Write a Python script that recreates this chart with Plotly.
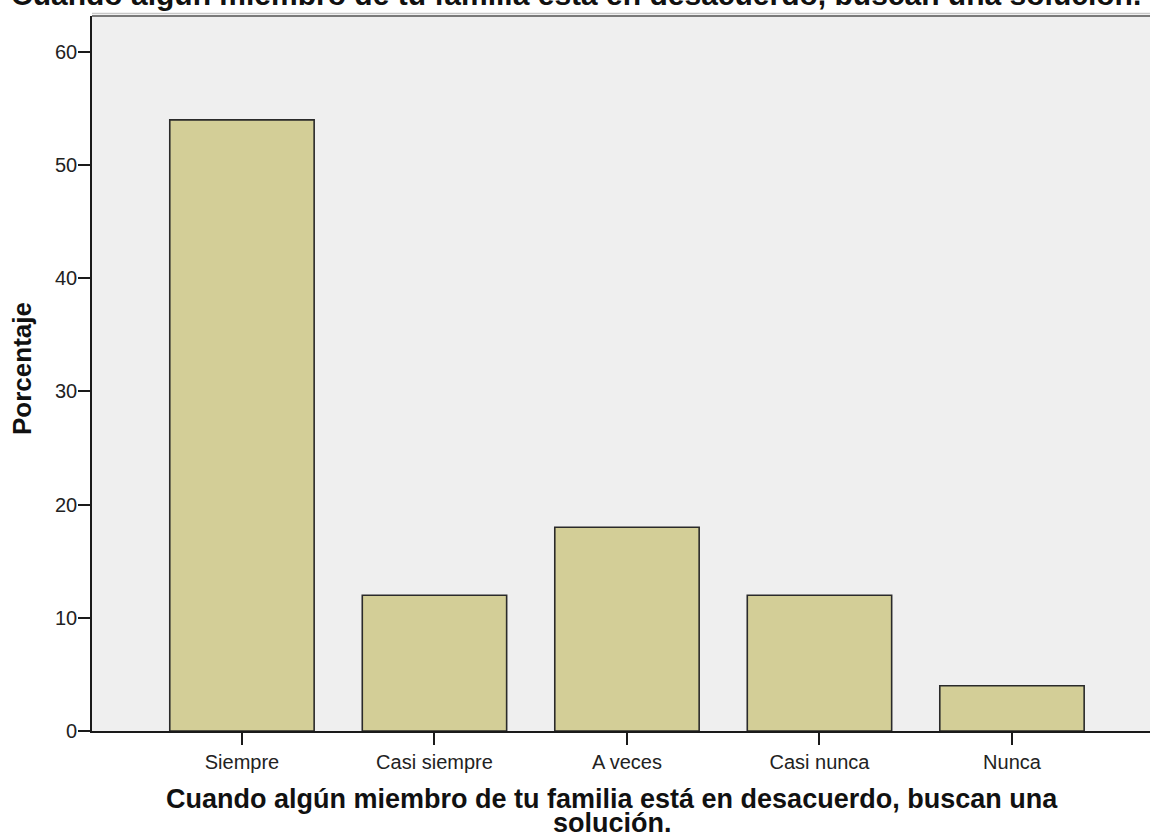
import plotly.graph_objects as go

categories = ["Siempre", "Casi siempre", "A veces", "Casi nunca", "Nunca"]
percentages = [54, 12, 18, 12, 4]
y_ticks = [0, 10, 20, 30, 40, 50, 60]

title_text = "Cuando algún miembro de tu familia está en desacuerdo, buscan una solución."
x_title_line1 = "Cuando algún miembro de tu familia está en desacuerdo, buscan una"
x_title_line2 = "solución."
y_title = "Porcentaje"

FONT = "Liberation Sans, Arial, sans-serif"
PLOT_H = 835 - 16 - 104  # plot area height in px
PLOT_W = 1150 - 92

fig = go.Figure()
fig.add_trace(go.Bar(
    x=categories,
    y=percentages,
    width=0.75,
    marker=dict(color="#D3CE97", line=dict(color="#2a2a2a", width=1.6)),
))

fig.update_layout(
    width=1150,
    height=835,
    margin=dict(l=92, r=0, t=16, b=104, autoexpand=False),
    paper_bgcolor="white",
    plot_bgcolor="#EFEFEF",
    showlegend=False,
    font=dict(family=FONT, color="#222222"),
    xaxis=dict(
        type="category",
        range=[-0.779, 4.717],
        showline=True, linecolor="#1a1a1a", linewidth=1.6,
        ticks="outside", ticklen=12, tickwidth=1.6, tickcolor="#1a1a1a",
        tickfont=dict(size=20, color="#222222"),
        showgrid=False, zeroline=False,
    ),
    yaxis=dict(
        range=[0, 63.18],
        tickvals=y_ticks,
        showline=True, linecolor="#1a1a1a", linewidth=1.6,
        ticks="outside", ticklen=12, tickwidth=1.6, tickcolor="#1a1a1a",
        tickfont=dict(size=20, color="#222222"),
        ticklabelstandoff=-3,
        showgrid=False, zeroline=False,
    ),
    annotations=[
        dict(text=title_text, xref="paper", yref="paper",
             x=(576 - 92) / PLOT_W, y=1.0, yshift=3, xanchor="center", yanchor="bottom",
             showarrow=False, font=dict(size=30, weight="bold", color="#111111")),
        dict(text=x_title_line1, xref="paper", yref="paper",
             x=(612 - 92) / PLOT_W, y=-(799 - 731) / PLOT_H, xanchor="center", yanchor="middle",
             showarrow=False, font=dict(size=27, weight="bold", color="#111111")),
        dict(text=x_title_line2, xref="paper", yref="paper",
             x=(612 - 92) / PLOT_W, y=-(823 - 731) / PLOT_H, xanchor="center", yanchor="middle",
             showarrow=False, font=dict(size=27, weight="bold", color="#111111")),
        dict(text=y_title, xref="paper", yref="paper", textangle=-90,
             x=(22 - 92) / PLOT_W, y=(731 - 369) / PLOT_H, xanchor="center", yanchor="middle",
             showarrow=False, font=dict(size=26, weight="bold", color="#111111")),
    ],
    shapes=[
        dict(type="line", xref="paper", yref="paper", x0=0, x1=1, y0=1, y1=1,
             line=dict(color="#7a7a7a", width=2)),
        dict(type="line", xref="paper", yref="paper", x0=0, x1=1, y0=1.0035, y1=1.0035,
             line=dict(color="#c8c8c8", width=1.5)),
    ],
)

fig.write_html(
    "out.html",
    config={"displayModeBar": False},
    post_script="document.body.style.margin='0';document.body.style.overflow='hidden';",
)
